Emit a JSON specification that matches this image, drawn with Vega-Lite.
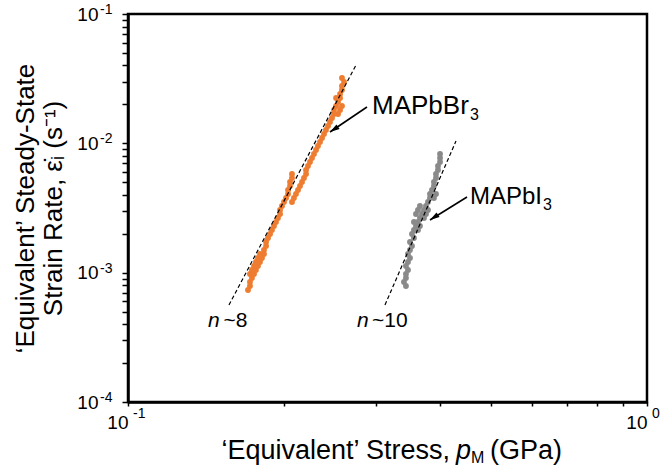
{
  "$schema": "https://vega.github.io/schema/vega-lite/v6.json",
  "width": 519,
  "height": 388,
  "autosize": {"type": "none"},
  "padding": {"left": 128, "top": 14, "right": 17, "bottom": 64},
  "background": "white",
  "config": {
    "view": {"stroke": "black", "strokeWidth": 2.5},
    "font": "Liberation Sans",
    "axis": {"grid": false, "ticks": true, "tickColor": "black", "tickWidth": 1.5, "tickOpacity": 1}
  },
  "datasets": {
    "br": [
      {"x":0.1703,"y":0.0007345},{"x":0.1718,"y":0.0007884},{"x":0.1718,"y":0.0008469},{"x":0.1733,"y":0.0009096},
      {"x":0.1718,"y":0.0009765},{"x":0.1749,"y":0.0009765},{"x":0.1733,"y":0.001049},{"x":0.1764,"y":0.001049},
      {"x":0.1749,"y":0.001126},{"x":0.178,"y":0.001126},{"x":0.1764,"y":0.001209},{"x":0.1796,"y":0.001209},
      {"x":0.178,"y":0.001298},{"x":0.1812,"y":0.001298},{"x":0.1796,"y":0.001394},{"x":0.1828,"y":0.001394},
      {"x":0.1828,"y":0.001497},{"x":0.1845,"y":0.001608},{"x":0.1845,"y":0.001726},{"x":0.1861,"y":0.001854},
      {"x":0.1878,"y":0.001991},{"x":0.1894,"y":0.002138},{"x":0.1911,"y":0.002296},{"x":0.1928,"y":0.002465},
      {"x":0.1945,"y":0.002647},{"x":0.1963,"y":0.002843},
      {"x":0.1963,"y":0.003052},{"x":0.198,"y":0.003277},{"x":0.1998,"y":0.003519},{"x":0.2016,"y":0.003779},
      {"x":0.2034,"y":0.004058},{"x":0.2034,"y":0.004357},{"x":0.2052,"y":0.004679},{"x":0.2052,"y":0.005024},
      {"x":0.207,"y":0.005395},{"x":0.207,"y":0.005793},
      {"x":0.207,"y":0.003519},{"x":0.2088,"y":0.003779},{"x":0.2107,"y":0.004058},{"x":0.2126,"y":0.004357},
      {"x":0.2145,"y":0.004679},{"x":0.2164,"y":0.005024},{"x":0.2183,"y":0.005395},{"x":0.2203,"y":0.005793},
      {"x":0.2203,"y":0.006221},{"x":0.2222,"y":0.00668},{"x":0.2242,"y":0.007173},{"x":0.2262,"y":0.007703},
      {"x":0.2282,"y":0.008271},{"x":0.2303,"y":0.008882},{"x":0.2323,"y":0.009537},{"x":0.2344,"y":0.01024},
      {"x":0.2365,"y":0.011},{"x":0.2386,"y":0.01181},{"x":0.2407,"y":0.01268},{"x":0.2429,"y":0.01362},
      {"x":0.245,"y":0.01462},{"x":0.2472,"y":0.0157},{"x":0.2494,"y":0.01686},{"x":0.2494,"y":0.01811},
      {"x":0.2517,"y":0.01944},{"x":0.2539,"y":0.02088},{"x":0.2562,"y":0.02242},
      {"x":0.2539,"y":0.01686},{"x":0.2562,"y":0.01811},{"x":0.2584,"y":0.01944},{"x":0.2562,"y":0.02407},
      {"x":0.2584,"y":0.02585},{"x":0.2584,"y":0.02775},{"x":0.2608,"y":0.0298},{"x":0.2584,"y":0.032},
      {"x":0.2517,"y":0.02242}
    ],
    "i": [
      {"x":0.3432,"y":0.0007884},{"x":0.3402,"y":0.0008469},{"x":0.3432,"y":0.0009096},{"x":0.3432,"y":0.0009765},
      {"x":0.3463,"y":0.001049},{"x":0.3432,"y":0.001126},{"x":0.3463,"y":0.001209},{"x":0.3494,"y":0.001298},
      {"x":0.3463,"y":0.001394},{"x":0.3494,"y":0.001497},{"x":0.3525,"y":0.001608},{"x":0.3494,"y":0.001726},
      {"x":0.3556,"y":0.001854},{"x":0.3525,"y":0.001991},{"x":0.3556,"y":0.002138},{"x":0.3588,"y":0.002296},
      {"x":0.3556,"y":0.002465},{"x":0.362,"y":0.002465},{"x":0.3652,"y":0.002647},{"x":0.3588,"y":0.002843},
      {"x":0.3685,"y":0.002843},{"x":0.3718,"y":0.003052},{"x":0.362,"y":0.003052},{"x":0.3751,"y":0.003277},
      {"x":0.3652,"y":0.003277},{"x":0.3784,"y":0.003052},{"x":0.3751,"y":0.002843},{"x":0.3784,"y":0.003519},
      {"x":0.3818,"y":0.003779},{"x":0.3818,"y":0.004058},{"x":0.3852,"y":0.004357},{"x":0.3886,"y":0.004679},
      {"x":0.3886,"y":0.005024},{"x":0.3921,"y":0.005395},{"x":0.3921,"y":0.005793},{"x":0.3956,"y":0.006221},
      {"x":0.3956,"y":0.00668},{"x":0.3992,"y":0.007173},{"x":0.3992,"y":0.007703},{"x":0.3992,"y":0.008271},
      {"x":0.3921,"y":0.004058},{"x":0.3886,"y":0.003779},{"x":0.3652,"y":0.002296},{"x":0.362,"y":0.002138},
      {"x":0.3718,"y":0.002647}
    ],
    "fits": [
      {"fit":"MAPbBr3","x":0.1565,"y":0.0005623},{"fit":"MAPbBr3","x":0.275,"y":0.04033},
      {"fit":"MAPbI3","x":0.3127,"y":0.0005623},{"fit":"MAPbI3","x":0.4285,"y":0.01042}
    ],
    "arrows": [
      {"x":0.2887,"y":0.0191,"x2":0.245,"y2":0.01224},
      {"x":0.45,"y":0.003847,"x2":0.3818,"y2":0.002555}
    ],
    "tips": [{"x":0.245,"y":0.01224},{"x":0.3818,"y":0.002555}],
    "names": [{"t":"MAPbBr","x":0.2952,"y":0.01686},{"t":"MAPbI","x":0.456,"y":0.003396}],
    "subs": [{"t":"3","x":0.456,"y":0.01516},{"t":"3","x":0.6304,"y":0.003052}],
    "nlab": [{"t":"n","x":0.1426,"y":0.0003802},{"t":"n","x":0.2762,"y":0.0003802}],
    "nval": [{"t":"~8","x":0.1527,"y":0.0003802},{"t":"~10","x":0.2952,"y":0.0003802}],
    "ysup": [{"t":"-1","x":0.1,"y":0.1},{"t":"-2","x":0.1,"y":0.01},{"t":"-3","x":0.1,"y":0.001},{"t":"-4","x":0.1,"y":0.0001}],
    "xsup": [{"t":"-1","x":0.1,"y":0.0001},{"t":"0","x":1,"y":0.0001}],
    "xtitle": [
      {"part":"a","t":"‘Equivalent’ Stress,","x":0.4173,"y":0.00003624},
      {"part":"p","t":"p","x":0.4285,"y":0.00003624},
      {"part":"m","t":"M","x":0.458,"y":0.00003375},
      {"part":"g","t":"(GPa)","x":0.4985,"y":0.00003624}
    ]
  },
  "encoding": {
    "x": {
      "field": "x", "type": "quantitative", "title": null,
      "scale": {"type": "log", "domain": [0.1, 1], "nice": false},
      "axis": {
        "title": null,
        "zindex": 2,
        "values": [0.1,0.2,0.3,0.4,0.5,0.6,0.7,0.8,0.9,1],
        "labelExpr": "datum.value == 0.1 || datum.value == 1 ? '10' : ''",
        "labelFont": "Liberation Sans", "labelFontSize": 19, "labelColor": "black",
        "labelPadding": 7, "labelAlign": "right", "labelDx": 3, "labelAngle": 0,
        "labelOverlap": false, "labelFlush": false, "labelBound": false,
        "ticks": true, "tickSize": 4, "tickWidth": 1.5, "tickColor": "black", "tickOpacity": 1,
        "domainColor": "black", "domainWidth": 2.5, "grid": false
      }
    },
    "y": {
      "field": "y", "type": "quantitative",
      "title": ["‘Equivalent’ Steady-State", "Strain Rate, ε̇ᵢ (s⁻¹)"],
      "scale": {"type": "log", "domain": [0.0001, 0.1], "nice": false},
      "axis": {
        "title": ["‘Equivalent’ Steady-State", "Strain Rate, ε̇ᵢ (s⁻¹)"],
        "zindex": 2,
        "titleFont": "Liberation Sans", "titleFontSize": 26, "titleFontWeight": "normal",
        "titleColor": "black", "titleLineHeight": 28, "titlePadding": 10,
        "values": [0.0001,0.0002,0.0003,0.0004,0.0005,0.0006,0.0007,0.0008,0.0009,
                   0.001,0.002,0.003,0.004,0.005,0.006,0.007,0.008,0.009,
                   0.01,0.02,0.03,0.04,0.05,0.06,0.07,0.08,0.09,0.1],
        "labelExpr": "indexof([0.0001,0.001,0.01,0.1], datum.value) >= 0 ? '10' : ''",
        "labelFont": "Liberation Sans", "labelFontSize": 19, "labelColor": "black",
        "labelPadding": 24,
        "labelOverlap": false, "labelFlush": false, "labelBound": false,
        "ticks": true, "tickSize": 6, "tickWidth": 1.5, "tickColor": "black", "tickOpacity": 1,
        "domainColor": "black", "domainWidth": 2.5, "grid": false
      }
    }
  },
  "layer": [
    {"data": {"name": "br"}, "mark": {"type": "circle", "color": "#EE7D31", "size": 34, "opacity": 1}},
    {"data": {"name": "i"}, "mark": {"type": "circle", "color": "#8A8A8A", "size": 34, "opacity": 1}},
    {"data": {"name": "fits"}, "mark": {"type": "line", "color": "black", "strokeWidth": 1.2, "strokeDash": [4, 2.5]},
     "encoding": {"detail": {"field": "fit"}}},
    {"data": {"name": "arrows"}, "mark": {"type": "rule", "color": "black", "strokeWidth": 1.6},
     "encoding": {"x2": {"field": "x2"}, "y2": {"field": "y2"}}},
    {"data": {"name": "tips"}, "mark": {"type": "point", "shape": "M0,0L-0.7,2.4L0.7,2.4Z", "filled": true, "color": "black", "size": 64, "angle": 237, "opacity": 1}},
    {"data": {"name": "names"}, "transform": [{"filter": "datum.t == 'MAPbBr'"}],
     "mark": {"type": "text", "fontSize": 26, "align": "left", "baseline": "alphabetic", "color": "black", "font": "Liberation Sans"},
     "encoding": {"text": {"field": "t"}}},
    {"data": {"name": "names"}, "transform": [{"filter": "datum.t == 'MAPbI'"}],
     "mark": {"type": "text", "fontSize": 24, "align": "left", "baseline": "alphabetic", "color": "black", "font": "Liberation Sans"},
     "encoding": {"text": {"field": "t"}}},
    {"data": {"name": "subs"},
     "mark": {"type": "text", "fontSize": 16, "align": "left", "baseline": "alphabetic", "color": "black", "font": "Liberation Sans"},
     "encoding": {"text": {"field": "t"}}},
    {"data": {"name": "nlab"},
     "mark": {"type": "text", "fontSize": 21, "fontStyle": "italic", "align": "left", "baseline": "alphabetic", "color": "black", "font": "Liberation Sans"},
     "encoding": {"text": {"field": "t"}}},
    {"data": {"name": "nval"},
     "mark": {"type": "text", "fontSize": 21, "align": "left", "baseline": "alphabetic", "color": "black", "font": "Liberation Sans"},
     "encoding": {"text": {"field": "t"}}},
    {"data": {"name": "ysup"},
     "mark": {"type": "text", "fontSize": 14, "align": "left", "baseline": "alphabetic", "dx": -28, "dy": 0, "color": "black", "font": "Liberation Sans"},
     "encoding": {"text": {"field": "t"}}},
    {"data": {"name": "xsup"},
     "mark": {"type": "text", "fontSize": 14, "align": "left", "baseline": "alphabetic", "dx": 5, "dy": 16, "color": "black", "font": "Liberation Sans"},
     "encoding": {"text": {"field": "t"}}},
    {"data": {"name": "xtitle"}, "transform": [{"filter": "datum.part == 'a'"}],
     "mark": {"type": "text", "fontSize": 27, "align": "right", "baseline": "alphabetic", "color": "black", "font": "Liberation Sans"},
     "encoding": {"text": {"field": "t"}}},
    {"data": {"name": "xtitle"}, "transform": [{"filter": "datum.part == 'p'"}],
     "mark": {"type": "text", "fontSize": 27, "fontStyle": "italic", "align": "left", "baseline": "alphabetic", "color": "black", "font": "Liberation Sans"},
     "encoding": {"text": {"field": "t"}}},
    {"data": {"name": "xtitle"}, "transform": [{"filter": "datum.part == 'm'"}],
     "mark": {"type": "text", "fontSize": 16, "align": "left", "baseline": "alphabetic", "color": "black", "font": "Liberation Sans"},
     "encoding": {"text": {"field": "t"}}},
    {"data": {"name": "xtitle"}, "transform": [{"filter": "datum.part == 'g'"}],
     "mark": {"type": "text", "fontSize": 27, "align": "left", "baseline": "alphabetic", "color": "black", "font": "Liberation Sans"},
     "encoding": {"text": {"field": "t"}}}
  ]
}
